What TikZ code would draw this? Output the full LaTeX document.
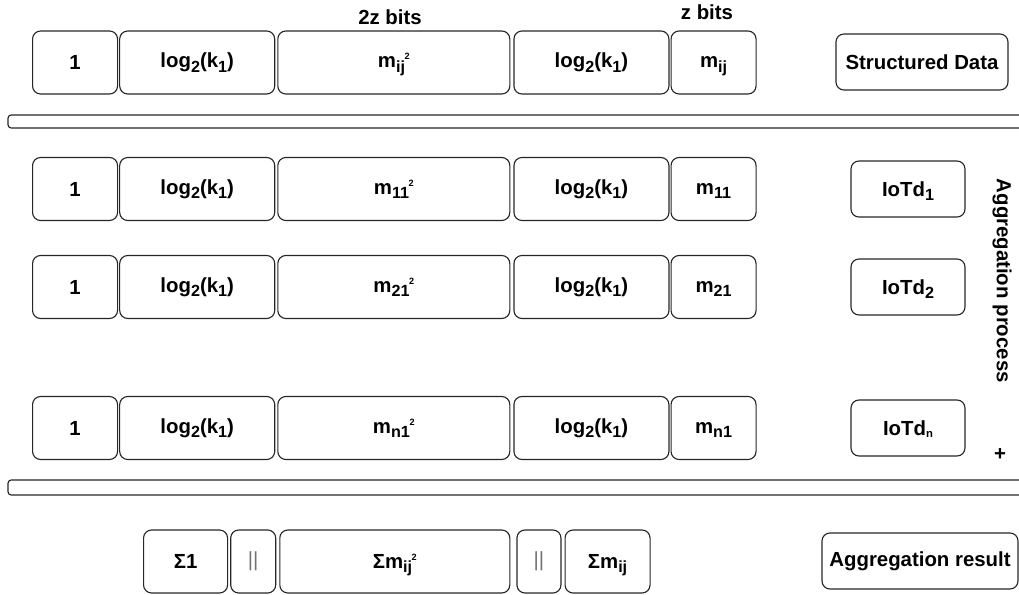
\documentclass[tikz,border=0pt]{standalone}
\usepackage{fontspec}
\setmainfont{Liberation Sans}
\usetikzlibrary{positioning}

% lowered index, tiny exponent and small index as the packet fields print them
\newcommand{\lo}[1]{\raisebox{-0.4ex}[0pt][0pt]{\fontsize{11.5}{11.5}\selectfont #1}}
\newcommand{\hi}[1]{\kern-0.3pt\raisebox{0.75ex}[0pt][0pt]{\fontsize{6.5}{6.5}\selectfont #1}}
\newcommand{\losmall}[1]{\raisebox{-0.25ex}[0pt][0pt]{\fontsize{8}{8}\selectfont #1}}

\begin{document}
\begin{tikzpicture}[
      field/.style={draw=black!85, line width=0.8pt, rounded corners=0.2cm, minimum height=1.575cm, inner sep=0pt},
      flag/.style={field, minimum width=2.125cm},
      logk/.style={field, minimum width=3.875cm},
      square/.style={field, minimum width=5.8cm},
      bar/.style={field, minimum width=1.125cm, text=black!55, font=\fontsize{14.5}{17}\selectfont},
      tag/.style={draw=black!85, line width=0.8pt, rounded corners=0.2cm, minimum height=1.4cm, inner sep=2pt},
      divider/.style={draw=black!85, line width=0.8pt, rounded corners=0.08cm},
      every node/.style={font=\fontsize{14.5}{17}\selectfont\bfseries}
    ]
    \clip (0,0) rectangle (25.475,-14.875);

    % Structured data packet
    \node (widebits) at (9.75,-0.425) {2z bits};
    \node (narrowbits) at (17.675,-0.3) {z bits};
    \node[flag, anchor=west] (top1) at (0.8,-1.5625) {1};
    \node[logk, right=0.025cm of top1] (top2) {log\lo{2}(k\lo{1})};
    \node[square, right=0.05cm of top2] (top3) {m\lo{ij}\hi{2}};
    \node[logk, right=0.075cm of top3] (top4) {log\lo{2}(k\lo{1})};
    \node[flag, right=0.025cm of top4] (top5) {m\lo{ij}};
    \node[tag, minimum width=4.3cm] (structured) at (23.05,-1.55) {Structured Data};

    \draw[divider] (0.2,-2.875) rectangle (25.7,-3.2);

    % Packets of the devices
    \node[flag, anchor=west] (one1) at (0.8,-4.725) {1};
    \node[logk, right=0.025cm of one1] (one2) {log\lo{2}(k\lo{1})};
    \node[square, right=0.05cm of one2] (one3) {m\lo{11}\hi{2}};
    \node[logk, right=0.075cm of one3] (one4) {log\lo{2}(k\lo{1})};
    \node[flag, right=0.025cm of one4] (one5) {m\lo{11}};
    \node[tag, minimum width=2.85cm] (dev1) at (22.7,-4.725) {IoTd\lo{1}};

    \node[flag, anchor=west] (two1) at (0.8,-7.175) {1};
    \node[logk, right=0.025cm of two1] (two2) {log\lo{2}(k\lo{1})};
    \node[square, right=0.05cm of two2] (two3) {m\lo{21}\hi{2}};
    \node[logk, right=0.075cm of two3] (two4) {log\lo{2}(k\lo{1})};
    \node[flag, right=0.025cm of two4] (two5) {m\lo{21}};
    \node[tag, minimum width=2.85cm] (dev2) at (22.7,-7.175) {IoTd\lo{2}};

    \node[flag, anchor=west] (last1) at (0.8,-10.7) {1};
    \node[logk, right=0.025cm of last1] (last2) {log\lo{2}(k\lo{1})};
    \node[square, right=0.05cm of last2] (last3) {m\lo{n1}\hi{2}};
    \node[logk, right=0.075cm of last3] (last4) {log\lo{2}(k\lo{1})};
    \node[flag, right=0.025cm of last4] (last5) {m\lo{n1}};
    \node[tag, minimum width=2.85cm] (devn) at (22.7,-10.7) {IoTd\losmall{n}};

    \node[rotate=-90] (process) at (25.05,-7.02) {Aggregation process};
    \node (plus) at (25.0,-11.375) {+};

    \draw[divider] (0.2,-12.0) rectangle (25.7,-12.375);

    % Aggregated packet
    \node[flag, minimum width=2.1cm, anchor=west] (sum1) at (3.575,-14.0375) {Σ1};
    \node[bar, right=0.05cm of sum1] (sep1) {||};
    \node[square, minimum width=5.75cm, right=0.075cm of sep1] (sum2) {Σm\lo{ij}\hi{2}};
    \node[bar, minimum width=1.1cm, right=0.15cm of sum2] (sep2) {||};
    \node[flag, right=0.075cm of sep2] (sum3) {Σm\lo{ij}};
    \node[tag, minimum width=4.9cm] (result) at (23,-14.025) {Aggregation result};

\end{tikzpicture}
\end{document}
